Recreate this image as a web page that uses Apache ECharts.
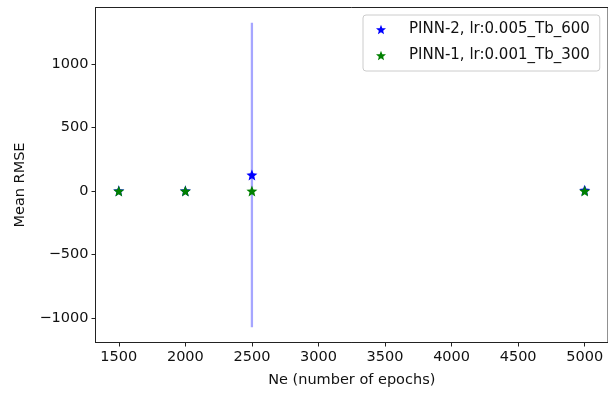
<!DOCTYPE html>
<html>
<head>
<meta charset="utf-8">
<script src="https://cdn.jsdelivr.net/npm/echarts@6/dist/echarts.min.js"></script>
<style>
html,body{margin:0;padding:0;background:#fff;}
#chart{width:608px;height:397px;}
</style>
</head>
<body>
<div id="chart"></div>
<script>
// ---- data ----
const epochs = [1500, 2000, 2500, 5000];
const pinn2Mean = [3, 3, 128, 8];
const pinn2Err = [4, 4, 1198, 30];
const pinn1Mean = [2, 2, 2, 2];
const pinn1Err = [2, 2, 3, 2];
const xTicks = [1500, 2000, 2500, 3000, 3500, 4000, 4500, 5000];
const yTicks = [-1000, -500, 0, 500, 1000];
const seriesNames = ['PINN-2, lr:0.005_Tb_600', 'PINN-1, lr:0.001_Tb_300'];

const FONT = 'DejaVu Sans';
const FS = 14.5;
const STAR = 'path://M12,1.5 L14.9,8.9 L22.8,9.4 L16.7,14.5 L18.6,22.2 L12,17.9 L5.4,22.2 L7.3,14.5 L1.2,9.4 L9.1,8.9 Z';
const fmt = v => v < 0 ? '\u2212' + Math.abs(v) : String(v);

function errSeries(name, mean, err, color, z) {
  return {
    type: 'custom',
    name: name,
    z: z,
    silent: true,
    renderItem: function (params, api) {
      const x = api.value(0);
      const p1 = api.coord([x, api.value(1)]);
      const p2 = api.coord([x, api.value(2)]);
      return {
        type: 'line',
        shape: { x1: p1[0], y1: p1[1], x2: p2[0], y2: p2[1] },
        style: { stroke: color, lineWidth: 2.3 }
      };
    },
    encode: { x: 0, y: [1, 2] },
    data: epochs.map((e, i) => [e, mean[i] - err[i], mean[i] + err[i]])
  };
}

const chart = echarts.init(document.getElementById('chart'), null, { renderer: 'canvas' });
chart.setOption({
  animation: false,
  backgroundColor: '#fff',
  textStyle: { fontFamily: FONT },
  grid: {
    left: 95.5, top: 7.5, width: 513.5, height: 335,
    show: true, borderColor: '#222', borderWidth: 1, backgroundColor: 'transparent'
  },
  legend: {
    data: seriesNames.map(n => ({ name: n, icon: STAR })),
    orient: 'vertical',
    left: 363, top: 15,
    padding: [7, 10, 8, 13],
    itemGap: 11,
    itemWidth: 10, itemHeight: 10,
    backgroundColor: '#fff',
    borderColor: '#cccccc', borderWidth: 1, borderRadius: 3,
    textStyle: { fontFamily: FONT, fontSize: 15, color: '#111', padding: [0, 0, 0, 18] }
  },
  xAxis: {
    type: 'value', min: 1325, max: 5175,
    name: 'Ne (number of epochs)', nameLocation: 'middle', nameGap: 30,
    nameTextStyle: { fontFamily: FONT, fontSize: FS, color: '#111' },
    axisLine: { show: true, onZero: false, lineStyle: { color: '#222', width: 1 } },
    axisTick: { show: true, length: 4, lineStyle: { color: '#222' }, customValues: xTicks },
    axisLabel: { customValues: xTicks, fontFamily: FONT, fontSize: FS, color: '#111', margin: 7, formatter: fmt },
    splitLine: { show: false }
  },
  yAxis: {
    type: 'value', min: -1191, max: 1446,
    name: 'Mean RMSE', nameLocation: 'middle', nameGap: 68, nameRotate: 90,
    nameTextStyle: { fontFamily: FONT, fontSize: FS, color: '#111', padding: [0, 20, 0, 0] },
    axisLine: { show: true, onZero: false, lineStyle: { color: '#222', width: 1 } },
    axisTick: { show: true, length: 4, lineStyle: { color: '#222' }, customValues: yTicks },
    axisLabel: { customValues: yTicks, fontFamily: FONT, fontSize: FS, color: '#111', margin: 7, formatter: fmt },
    splitLine: { show: false }
  },
  series: [
    errSeries('PINN-2 err', pinn2Mean, pinn2Err, 'rgba(0,0,255,0.35)', 2),
    {
      type: 'scatter', name: seriesNames[0], z: 3,
      symbol: STAR, symbolSize: 11,
      itemStyle: { color: '#0000ff', opacity: 1 },
      data: epochs.map((e, i) => [e, pinn2Mean[i]])
    },
    errSeries('PINN-1 err', pinn1Mean, pinn1Err, 'rgba(0,128,0,0.35)', 4),
    {
      type: 'scatter', name: seriesNames[1], z: 5,
      symbol: STAR, symbolSize: 11,
      itemStyle: { color: '#008000', opacity: 1 },
      data: epochs.map((e, i) => [e, pinn1Mean[i]])
    }
  ]
});
</script>
</body>
</html>
